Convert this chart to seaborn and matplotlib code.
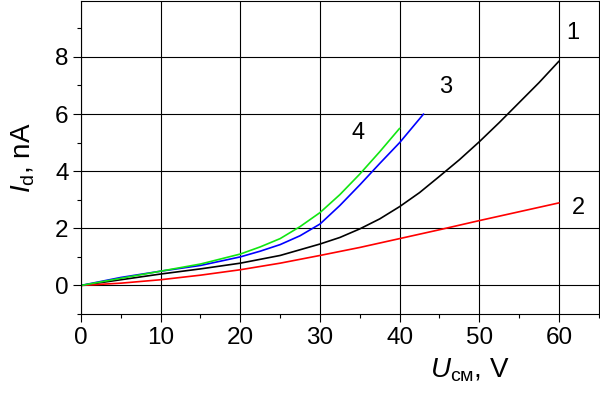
import numpy as np
import pandas as pd
import matplotlib
matplotlib.use("Agg")
import matplotlib.pyplot as plt
import seaborn as sns

# values (U in V, I_d in nA)
u_1 = [0, 5, 10, 15, 20, 25, 30, 32.5, 35, 37.5, 40, 42.5, 45, 47.5, 50, 52.5, 55, 57.5, 60]
i_1 = [0, 0.2, 0.4, 0.58, 0.78, 1.05, 1.45, 1.68, 1.98, 2.33, 2.76, 3.25, 3.82, 4.4, 5.03, 5.7, 6.4, 7.1, 7.85]
u_2 = [0, 5, 10, 15, 20, 25, 30, 35, 40, 45, 50, 55, 60]
i_2 = [0, 0.08, 0.2, 0.36, 0.55, 0.78, 1.05, 1.33, 1.64, 1.95, 2.27, 2.58, 2.89]
u_3 = [0, 5, 10, 15, 20, 22.5, 25, 27.5, 30, 32.5, 35, 37.5, 40, 43]
i_3 = [0, 0.28, 0.5, 0.7, 1.0, 1.2, 1.43, 1.74, 2.15, 2.8, 3.52, 4.27, 5.0, 6.0]
u_4 = [0, 5, 10, 15, 20, 22.5, 25, 27.5, 30, 32.5, 35, 37.5, 40]
i_4 = [0, 0.25, 0.5, 0.75, 1.1, 1.35, 1.64, 2.06, 2.55, 3.18, 3.9, 4.68, 5.5]

curve_names = ["1", "2", "3", "4"]
curve_colors = ["black", "#ff0000", "#0000ff", "#11e611"]
# where the curve numbers sit (data coords)
label_pos = [(61.8, 8.85), (62.5, 2.7), (45.8, 6.95), (34.8, 5.35)]

sns.set_theme(style="white")
plt.rcParams["font.family"] = ["Liberation Sans", "DejaVu Sans"]
plt.rcParams["mathtext.fontset"] = "custom"
plt.rcParams["mathtext.rm"] = "Liberation Sans"
plt.rcParams["mathtext.it"] = "Liberation Sans:italic"

fig = plt.figure(figsize=(6, 3.95), dpi=100)
ax = fig.add_axes([0.135, 0.205, 0.863, 0.792])

data = [(u_1, i_1), (u_2, i_2), (u_3, i_3), (u_4, i_4)]
for (u, i), c in zip(data, curve_colors):
    sns.lineplot(x=u, y=i, color=c, linewidth=1.2, ax=ax, sort=False)

for name, (x, y) in zip(curve_names, label_pos):
    ax.text(x, y, name, fontsize=17, ha="center", va="center", color="black")

ax.set_xlim(0, 65)
ax.set_ylim(-1, 9.95)
ax.set_xticks([0, 10, 20, 30, 40, 50, 60])
ax.set_xticks([5, 15, 25, 35, 45, 55, 65], minor=True)
ax.set_yticks([0, 2, 4, 6, 8])
ax.set_yticks([-1, 1, 3, 5, 7, 9], minor=True)
ax.tick_params(axis="both", which="major", direction="out", length=6, width=0.8,
               color="black", labelsize=17.5, labelcolor="black", pad=3,
               bottom=True, left=True)
ax.tick_params(axis="both", which="minor", direction="out", length=3, width=0.8,
               color="black", bottom=True, left=True)
ax.grid(True, which="major", color="black", linewidth=0.8)
for s in ax.spines.values():
    s.set_color("black")
    s.set_linewidth(0.8)

ax.set_xlabel(r"$\mathit{U}_{\mathrm{см}}$, V", fontsize=20, color="black")
ax.xaxis.set_label_coords(0.75, -0.135)
ax.set_ylabel(r"$\mathit{I}_{\mathrm{d}}$, nA", fontsize=20, color="black")
ax.yaxis.set_label_coords(-0.085, 0.5)

fig.savefig("out.png", dpi=100)
